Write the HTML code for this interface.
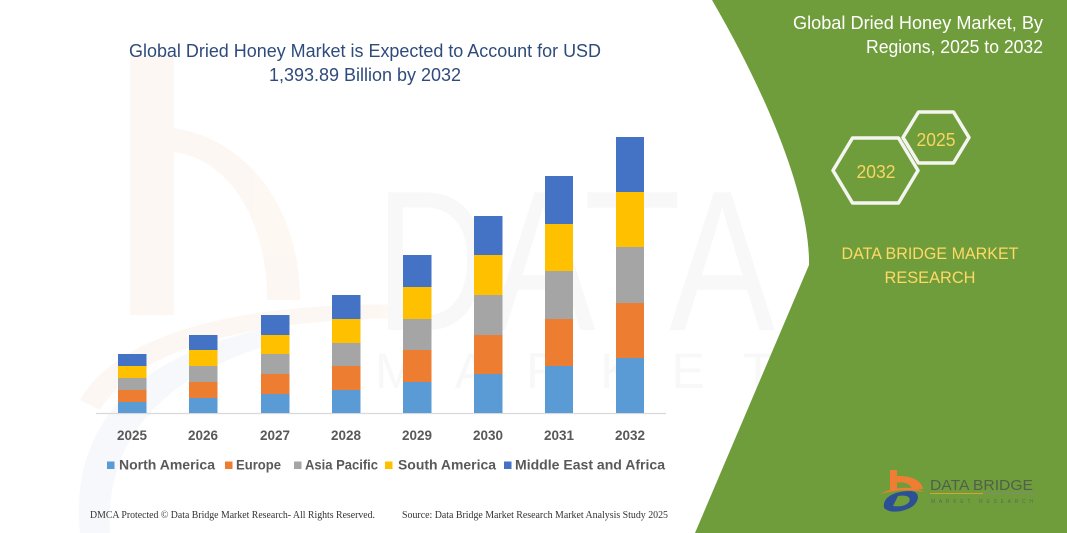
<!DOCTYPE html>
<html><head><meta charset="utf-8"><style>
html,body{margin:0;padding:0;background:#fff;}
svg{display:block;}
</style></head><body>
<svg width="1067" height="533" viewBox="0 0 1067 533" xmlns="http://www.w3.org/2000/svg">
<rect width="1067" height="533" fill="#fff"/>
<!-- faint watermark -->
<g opacity="0.5">
<rect x="130" y="55" width="44" height="260" fill="#fdf1e8"/>
<path d="M174,128 C250,140 300,210 300,300 L267,300 C267,220 230,160 174,152 Z" fill="#fdf1e8"/>
<path d="M80,400 C120,330 250,300 420,305 L420,318 C260,318 140,345 100,410 Z" fill="#fdf1e8"/>
<path d="M80,533 C70,440 120,360 260,330 L270,345 C150,380 105,450 110,533 Z" fill="#eef2f8"/>
</g>
<text x="375" y="330" font-family="Liberation Sans, sans-serif" font-size="200" fill="#f8f8f8" textLength="400" lengthAdjust="spacingAndGlyphs">DATA</text>
<text x="375" y="388" font-family="Liberation Sans, sans-serif" font-size="50" fill="#f8f8f8" letter-spacing="38">MARKET</text>

<!-- green panel -->
<path d="M712,0 C770,100 810,200 809,265 L695,533 L1067,533 L1067,0 Z" fill="#709d3b"/>

<!-- main title -->
<text x="365" y="57" text-anchor="middle" font-family="Liberation Sans, sans-serif" font-size="18" fill="#2f4b7c" textLength="472" lengthAdjust="spacingAndGlyphs">Global Dried Honey Market is Expected to Account for USD</text>
<text x="365" y="81" text-anchor="middle" font-family="Liberation Sans, sans-serif" font-size="18" fill="#2f4b7c" textLength="192" lengthAdjust="spacingAndGlyphs">1,393.89 Billion by 2032</text>

<!-- axis -->
<line x1="96" y1="413.5" x2="666" y2="413.5" stroke="#d9d9d9" stroke-width="1.2"/>

<!-- bars -->
<g>
<rect x="118" y="354" width="28.5" height="12" fill="#4472c4"/>
<rect x="118" y="366" width="28.5" height="12" fill="#ffc000"/>
<rect x="118" y="378" width="28.5" height="12" fill="#a5a5a5"/>
<rect x="118" y="390" width="28.5" height="12" fill="#ed7d31"/>
<rect x="118" y="402" width="28.5" height="11" fill="#5b9bd5"/>
<rect x="189" y="335" width="28.5" height="15" fill="#4472c4"/>
<rect x="189" y="350" width="28.5" height="16" fill="#ffc000"/>
<rect x="189" y="366" width="28.5" height="16" fill="#a5a5a5"/>
<rect x="189" y="382" width="28.5" height="16" fill="#ed7d31"/>
<rect x="189" y="398" width="28.5" height="15" fill="#5b9bd5"/>
<rect x="261" y="315" width="28.5" height="20" fill="#4472c4"/>
<rect x="261" y="335" width="28.5" height="19" fill="#ffc000"/>
<rect x="261" y="354" width="28.5" height="20" fill="#a5a5a5"/>
<rect x="261" y="374" width="28.5" height="20" fill="#ed7d31"/>
<rect x="261" y="394" width="28.5" height="19" fill="#5b9bd5"/>
<rect x="332" y="295" width="28.5" height="24" fill="#4472c4"/>
<rect x="332" y="319" width="28.5" height="24" fill="#ffc000"/>
<rect x="332" y="343" width="28.5" height="23" fill="#a5a5a5"/>
<rect x="332" y="366" width="28.5" height="24" fill="#ed7d31"/>
<rect x="332" y="390" width="28.5" height="23" fill="#5b9bd5"/>
<rect x="403" y="255" width="28.5" height="32" fill="#4472c4"/>
<rect x="403" y="287" width="28.5" height="32" fill="#ffc000"/>
<rect x="403" y="319" width="28.5" height="31" fill="#a5a5a5"/>
<rect x="403" y="350" width="28.5" height="32" fill="#ed7d31"/>
<rect x="403" y="382" width="28.5" height="31" fill="#5b9bd5"/>
<rect x="474" y="216" width="28.5" height="39" fill="#4472c4"/>
<rect x="474" y="255" width="28.5" height="40" fill="#ffc000"/>
<rect x="474" y="295" width="28.5" height="40" fill="#a5a5a5"/>
<rect x="474" y="335" width="28.5" height="39" fill="#ed7d31"/>
<rect x="474" y="374" width="28.5" height="39" fill="#5b9bd5"/>
<rect x="545" y="176" width="28" height="48" fill="#4472c4"/>
<rect x="545" y="224" width="28" height="47" fill="#ffc000"/>
<rect x="545" y="271" width="28" height="48" fill="#a5a5a5"/>
<rect x="545" y="319" width="28" height="47" fill="#ed7d31"/>
<rect x="545" y="366" width="28" height="47" fill="#5b9bd5"/>
<rect x="616" y="137" width="28" height="55" fill="#4472c4"/>
<rect x="616" y="192" width="28" height="55" fill="#ffc000"/>
<rect x="616" y="247" width="28" height="56" fill="#a5a5a5"/>
<rect x="616" y="303" width="28" height="55" fill="#ed7d31"/>
<rect x="616" y="358" width="28" height="55" fill="#5b9bd5"/>
</g>

<!-- year labels -->
<g font-family="Liberation Sans, sans-serif" font-size="14" font-weight="bold" fill="#595959" text-anchor="middle">
<text x="132" y="440" textLength="30" lengthAdjust="spacingAndGlyphs">2025</text>
<text x="203" y="440" textLength="30" lengthAdjust="spacingAndGlyphs">2026</text>
<text x="275" y="440" textLength="30" lengthAdjust="spacingAndGlyphs">2027</text>
<text x="346" y="440" textLength="30" lengthAdjust="spacingAndGlyphs">2028</text>
<text x="417" y="440" textLength="30" lengthAdjust="spacingAndGlyphs">2029</text>
<text x="488" y="440" textLength="30" lengthAdjust="spacingAndGlyphs">2030</text>
<text x="559" y="440" textLength="30" lengthAdjust="spacingAndGlyphs">2031</text>
<text x="630" y="440" textLength="30" lengthAdjust="spacingAndGlyphs">2032</text>
</g>

<!-- legend -->
<rect x="107" y="461.5" width="7.5" height="7.5" fill="#5b9bd5"/>
<rect x="225" y="461.5" width="7.5" height="7.5" fill="#ed7d31"/>
<rect x="294" y="461.5" width="7.5" height="7.5" fill="#a5a5a5"/>
<rect x="385" y="461.5" width="7.5" height="7.5" fill="#ffc000"/>
<rect x="504" y="461.5" width="7.5" height="7.5" fill="#4472c4"/>
<g font-family="Liberation Sans, sans-serif" font-size="14" font-weight="bold" fill="#595959">
<text x="119" y="469.5" textLength="96" lengthAdjust="spacingAndGlyphs">North America</text>
<text x="236" y="469.5" textLength="45" lengthAdjust="spacingAndGlyphs">Europe</text>
<text x="305" y="469.5" textLength="73" lengthAdjust="spacingAndGlyphs">Asia Pacific</text>
<text x="398" y="469.5" textLength="98" lengthAdjust="spacingAndGlyphs">South America</text>
<text x="515" y="469.5" textLength="150" lengthAdjust="spacingAndGlyphs">Middle East and Africa</text>
</g>

<!-- footer -->
<g font-family="Liberation Serif, serif" font-size="10" fill="#333">
<text x="90" y="518" textLength="285" lengthAdjust="spacingAndGlyphs">DMCA Protected © Data Bridge Market Research-  All Rights Reserved.</text>
<text x="402" y="518" textLength="266" lengthAdjust="spacingAndGlyphs">Source:  Data Bridge Market Research  Market Analysis Study 2025</text>
</g>

<!-- right panel text -->
<g font-family="Liberation Sans, sans-serif" font-size="18" fill="#ffffff" text-anchor="end">
<text x="1043" y="29" textLength="250" lengthAdjust="spacingAndGlyphs">Global Dried Honey Market, By</text>
<text x="1043" y="53" textLength="177" lengthAdjust="spacingAndGlyphs">Regions, 2025 to 2032</text>
</g>

<!-- hexagons -->
<polygon points="903,137.5 918.5,112 953.5,112 969,137.5 953.5,163 918.5,163" fill="none" stroke="#f4f4f0" stroke-width="3.5" stroke-linejoin="round"/>
<polygon points="833,170.5 852.5,138 898.5,138 918,170.5 898.5,203 852.5,203" fill="none" stroke="#f4f4f0" stroke-width="3.5" stroke-linejoin="round"/>
<g font-family="Liberation Sans, sans-serif" font-size="18" fill="#f7d65f" text-anchor="middle">
<text x="936" y="146" textLength="39" lengthAdjust="spacingAndGlyphs">2025</text>
<text x="876" y="178" textLength="39" lengthAdjust="spacingAndGlyphs">2032</text>
</g>

<g font-family="Liberation Sans, sans-serif" font-size="17" fill="#ffd966" text-anchor="middle">
<text x="930" y="259" textLength="177" lengthAdjust="spacingAndGlyphs">DATA BRIDGE MARKET</text>
<text x="930" y="283" textLength="91" lengthAdjust="spacingAndGlyphs">RESEARCH</text>
</g>

<!-- logo -->
<g>
<rect x="890" y="470" width="7" height="20" fill="#ef7d34"/>
<path d="M890,477 C905,474 921,478 923,489 L912,489 C910,483 902,481 897,483 Z" fill="#ef7d34"/>
<path d="M880,494 C895,486 915,486 924,492 C910,489 895,490 880,494 Z" fill="#ef7d34"/>
<path d="M884,508 C882,497 895,491 910,491 C920,491 920,500 913,506 C905,512 890,514 884,508 Z M893,506 L898,496 C905,495 912,496 909,502 C906,506 899,507 893,506 Z" fill="#2c4f96" fill-rule="evenodd"/>
<text x="930" y="490" font-family="Liberation Sans, sans-serif" font-size="15" fill="#50604a" textLength="103" lengthAdjust="spacingAndGlyphs">DATA BRIDGE</text>
<line x1="930" y1="493.5" x2="983" y2="493.5" stroke="#e0a030" stroke-width="1"/>
<line x1="983" y1="493.5" x2="1035" y2="493.5" stroke="#7f8a7a" stroke-width="1"/>
<text x="931" y="503" font-family="Liberation Sans, sans-serif" font-size="5" fill="#5b6b55" textLength="102" lengthAdjust="spacing">MARKET RESEARCH</text>
</g>
</svg>
</body></html>
